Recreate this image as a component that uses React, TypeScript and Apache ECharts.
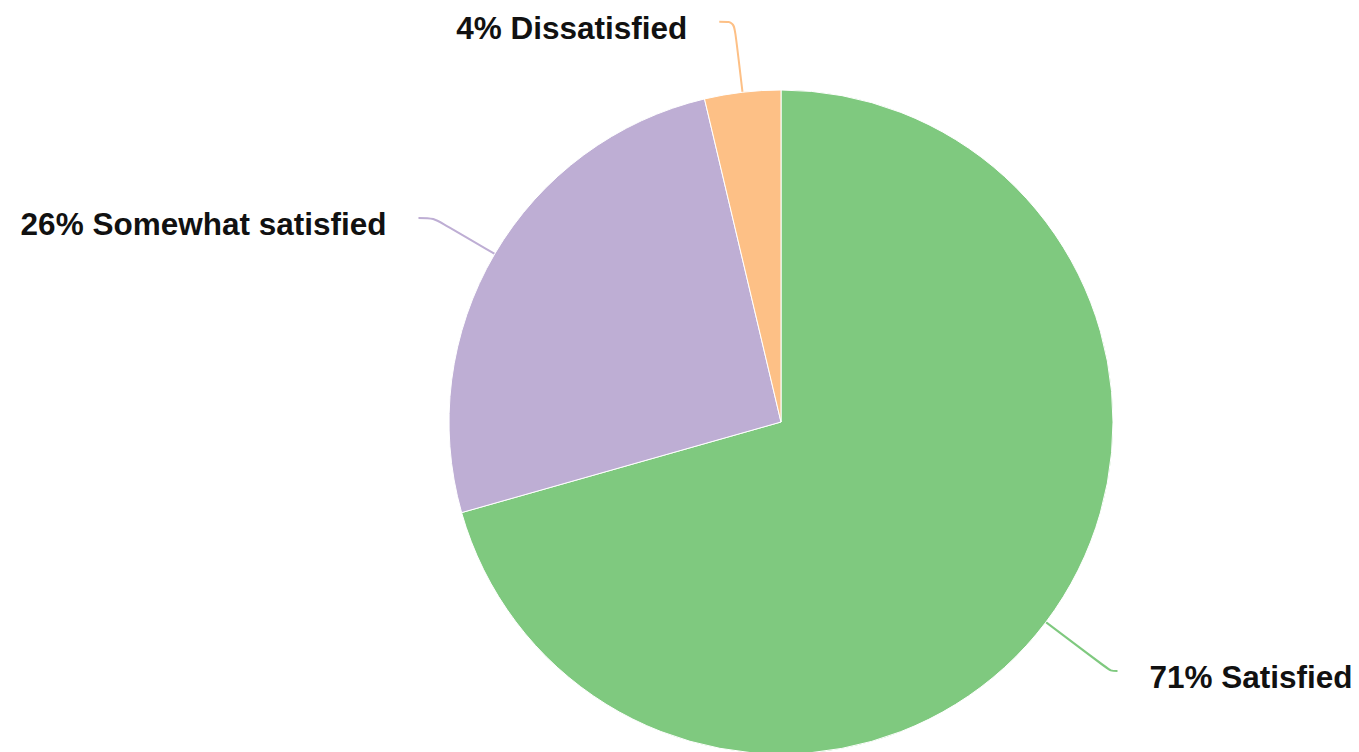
import React, { useEffect, useRef } from "react";
import * as echarts from "echarts";

const categories = ["Satisfied", "Somewhat satisfied", "Dissatisfied"];
const values = [70.6, 25.7, 3.7];
const colors = ["#7fc97f", "#beaed4", "#fdc086"];

export default function App() {
  const ref = useRef<HTMLDivElement>(null);
  useEffect(() => {
    const chart = echarts.init(ref.current!, null, { renderer: "svg" });
    chart.setOption({
      animation: false,
      color: colors,
      series: [
        {
          type: "pie",
          center: [781, 422],
          radius: 332,
          startAngle: 90,
          clockwise: true,
          avoidLabelOverlap: false,
          itemStyle: { borderColor: "#fff", borderWidth: 1 },
          label: {
            show: true,
            position: "outside",
            distanceToLabelLine: 32,
            formatter: (p: any) => `{t|${Math.round(p.value)}% ${p.name}}`,
            rich: {
              t: {
                fontFamily: "Liberation Sans, Arial, sans-serif",
                fontSize: 31.5,
                fontWeight: "bold",
                color: "#111",
                padding: [12, 0, 0, 0],
              },
            },
          },
          labelLine: {
            show: true,
            length: 71,
            length2: 15,
            smooth: true,
            lineStyle: { width: 2 },
          },
          data: categories.map((name, i) => ({
            name,
            value: values[i],
            labelLine: i === 0 ? { length: 81, length2: 7 } : undefined,
          })),
        },
      ],
    });
    return () => chart.dispose();
  }, []);
  return (
    <div
      ref={ref}
      style={{ position: "fixed", left: 0, top: 0, width: 1359, height: 752, background: "#fff" }}
    />
  );
}
